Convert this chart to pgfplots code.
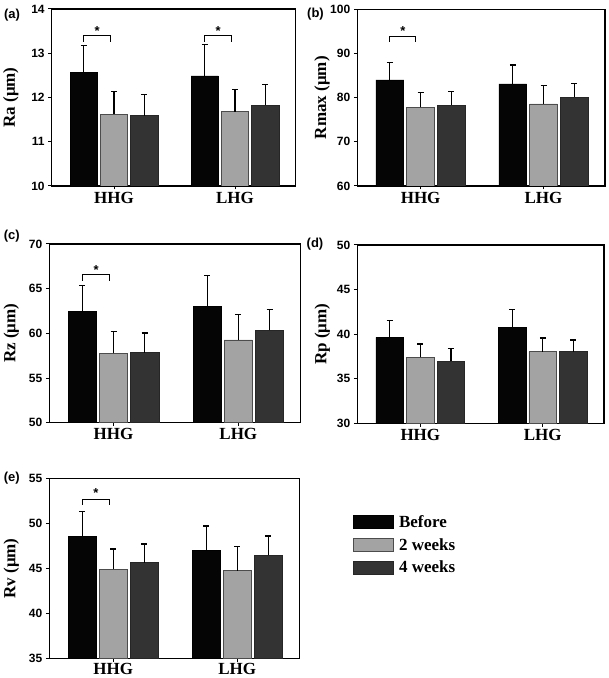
\documentclass[border=0pt]{standalone}
\usepackage{fontspec}
\setmainfont{Liberation Serif}
\setsansfont{Liberation Sans}
\usepackage{pgfplots}
\pgfplotsset{compat=1.18}

\definecolor{cBefore}{HTML}{050505}
\definecolor{cTwo}{HTML}{A3A3A3}
\definecolor{cFour}{HTML}{333333}

\pgfplotsset{
  panel/.style={
    scale only axis,
    ybar,
    bar width=0.226,
    xmin=-0.515, xmax=1.5,
    xtick={0,1}, xticklabels={HHG,LHG},
    xtick pos=left, ytick pos=left,
    tick align=outside,
    major tick length=3.5pt,
    axis line style={line width=1.1pt},
    every tick/.style={black, line width=1pt},
    /pgf/number format/assume math mode=true,
    yticklabel style={font=\sffamily\bfseries\fontsize{12}{13}\selectfont},
    xticklabel style={font=\bfseries\fontsize{17}{19}\selectfont, yshift=1pt},
    ylabel style={font=\bfseries\fontsize{17}{19}\selectfont, anchor=center},
    error bars/y dir=plus, error bars/y explicit,
    error bars/error bar style={line width=1.1pt, black},
    error bars/error mark options={rotate=90, mark size=3pt, line width=1.1pt, black},
    legend image code/.code={\draw[#1] (0pt,-6.5pt) rectangle (39.6pt,6.5pt);},
  },
  sB/.style={fill=cBefore, draw=black, line width=0.6pt, bar shift=-0.25},
  s2/.style={fill=cTwo, draw=black!70, line width=0.6pt, bar shift=0},
  s4/.style={fill=cFour, draw=black!85, line width=0.6pt, bar shift=0.25},
}
\tikzset{
  brk/.style={line width=1pt, black},
  star/.style={font=\sffamily\bfseries\fontsize{13}{13}\selectfont, inner sep=0pt},
  plab/.style={font=\sffamily\bfseries\fontsize{13}{13}\selectfont},
}

\begin{document}
\begin{tikzpicture}
\useasboundingbox (0pt,0pt) rectangle (609pt,678pt);

% (a) Ra
\begin{axis}[panel, at={(51.7pt,492pt)}, anchor=south west,
  width=243.8pt, height=177pt, ymin=10, ymax=14, ytick={10,11,12,13,14},
  ylabel={Ra (μm)}, ylabel style={at={(axis description cs:-0.168,0.5)}}]
\addplot[sB] coordinates {(0,12.56) +- (0,0.61) (1,12.49) +- (0,0.71)};
\addplot[s2] coordinates {(0,11.62) +- (0,0.51) (1,11.68) +- (0,0.51)};
\addplot[s4] coordinates {(0,11.59) +- (0,0.47) (1,11.82) +- (0,0.47)};
\draw[brk] (axis cs:-0.25,13.26) |- (axis cs:-0.03,13.39) -- (axis cs:-0.03,13.26);
\node[star] at (axis cs:-0.14,13.50) {*};
\draw[brk] (axis cs:0.75,13.26) |- (axis cs:0.97,13.39) -- (axis cs:0.97,13.26);
\node[star] at (axis cs:0.86,13.50) {*};
\end{axis}

% (b) Rmax
\begin{axis}[panel, at={(357.3pt,492pt)}, anchor=south west,
  width=247.7pt, height=176.7pt, ymin=60, ymax=100, ytick={60,70,80,90,100},
  ylabel={Rmax (μm)}, ylabel style={at={(axis description cs:-0.142,0.5)}}]
\addplot[sB] coordinates {(0,84.0) +- (0,4.0) (1,83.1) +- (0,4.3)};
\addplot[s2] coordinates {(0,77.8) +- (0,3.4) (1,78.6) +- (0,4.1)};
\addplot[s4] coordinates {(0,78.3) +- (0,3.0) (1,80.1) +- (0,3.1)};
\draw[brk] (axis cs:-0.25,92.6) |- (axis cs:-0.04,93.9) -- (axis cs:-0.04,92.6);
\node[star] at (axis cs:-0.145,95.1) {*};
\end{axis}

% (c) Rz
\begin{axis}[panel, at={(49.3pt,255.3pt)}, anchor=south west,
  width=251.4pt, height=178.7pt, ymin=50, ymax=70, ytick={50,55,60,65,70},
  ylabel={Rz (μm)}, ylabel style={at={(axis description cs:-0.151,0.5)}}]
\addplot[sB] coordinates {(0,62.5) +- (0,2.9) (1,62.99) +- (0,3.44)};
\addplot[s2] coordinates {(0,57.77) +- (0,2.46) (1,59.26) +- (0,2.8)};
\addplot[s4] coordinates {(0,57.84) +- (0,2.2) (1,60.34) +- (0,2.36)};
\draw[brk] (axis cs:-0.25,65.9) |- (axis cs:-0.03,66.54) -- (axis cs:-0.03,65.9);
\node[star] at (axis cs:-0.14,67.1) {*};
\end{axis}

% (d) Rp
\begin{axis}[panel, at={(357.3pt,254.7pt)}, anchor=south west,
  width=246.7pt, height=178.3pt, ymin=30, ymax=50, ytick={30,35,40,45,50},
  ylabel={Rp (μm)}, ylabel style={at={(axis description cs:-0.142,0.5)}}]
\addplot[sB] coordinates {(0,39.64) +- (0,1.91) (1,40.72) +- (0,2.06)};
\addplot[s2] coordinates {(0,37.40) +- (0,1.49) (1,38.03) +- (0,1.54)};
\addplot[s4] coordinates {(0,36.95) +- (0,1.42) (1,38.03) +- (0,1.31)};
\end{axis}

% (e) Rv
\begin{axis}[panel, at={(49.3pt,19.3pt)}, anchor=south west,
  width=250pt, height=180.4pt, ymin=35, ymax=55, ytick={35,40,45,50,55},
  xticklabel style={yshift=1.5pt},
  ylabel={Rv (μm)}, ylabel style={at={(axis description cs:-0.152,0.5)}},
  legend style={at={(axis description cs:1.2136,0.808)}, anchor=north west,
    draw=none, fill=none, inner sep=0pt, row sep=5.6pt, column sep=4pt,
    font=\bfseries\fontsize{17}{19}\selectfont},
  legend cell align=left]
\addplot[sB] coordinates {(0,48.53) +- (0,2.77) (1,47.05) +- (0,2.66)};
\addplot[s2] coordinates {(0,44.94) +- (0,2.22) (1,44.76) +- (0,2.66)};
\addplot[s4] coordinates {(0,45.65) +- (0,2.07) (1,46.46) +- (0,2.14)};
\draw[brk] (axis cs:-0.25,52.04) |- (axis cs:-0.03,52.67) -- (axis cs:-0.03,52.04);
\node[star] at (axis cs:-0.14,53.4) {*};
\legend{Before, 2 weeks, 4 weeks}
\end{axis}

% panel labels
\node[plab] at (12pt,663pt) {(a)};
\node[plab] at (315.5pt,664pt) {(b)};
\node[plab] at (11.7pt,442.3pt) {(c)};
\node[plab] at (315pt,434pt) {(d)};
\node[plab] at (11.7pt,200pt) {(e)};
\end{tikzpicture}
\end{document}
